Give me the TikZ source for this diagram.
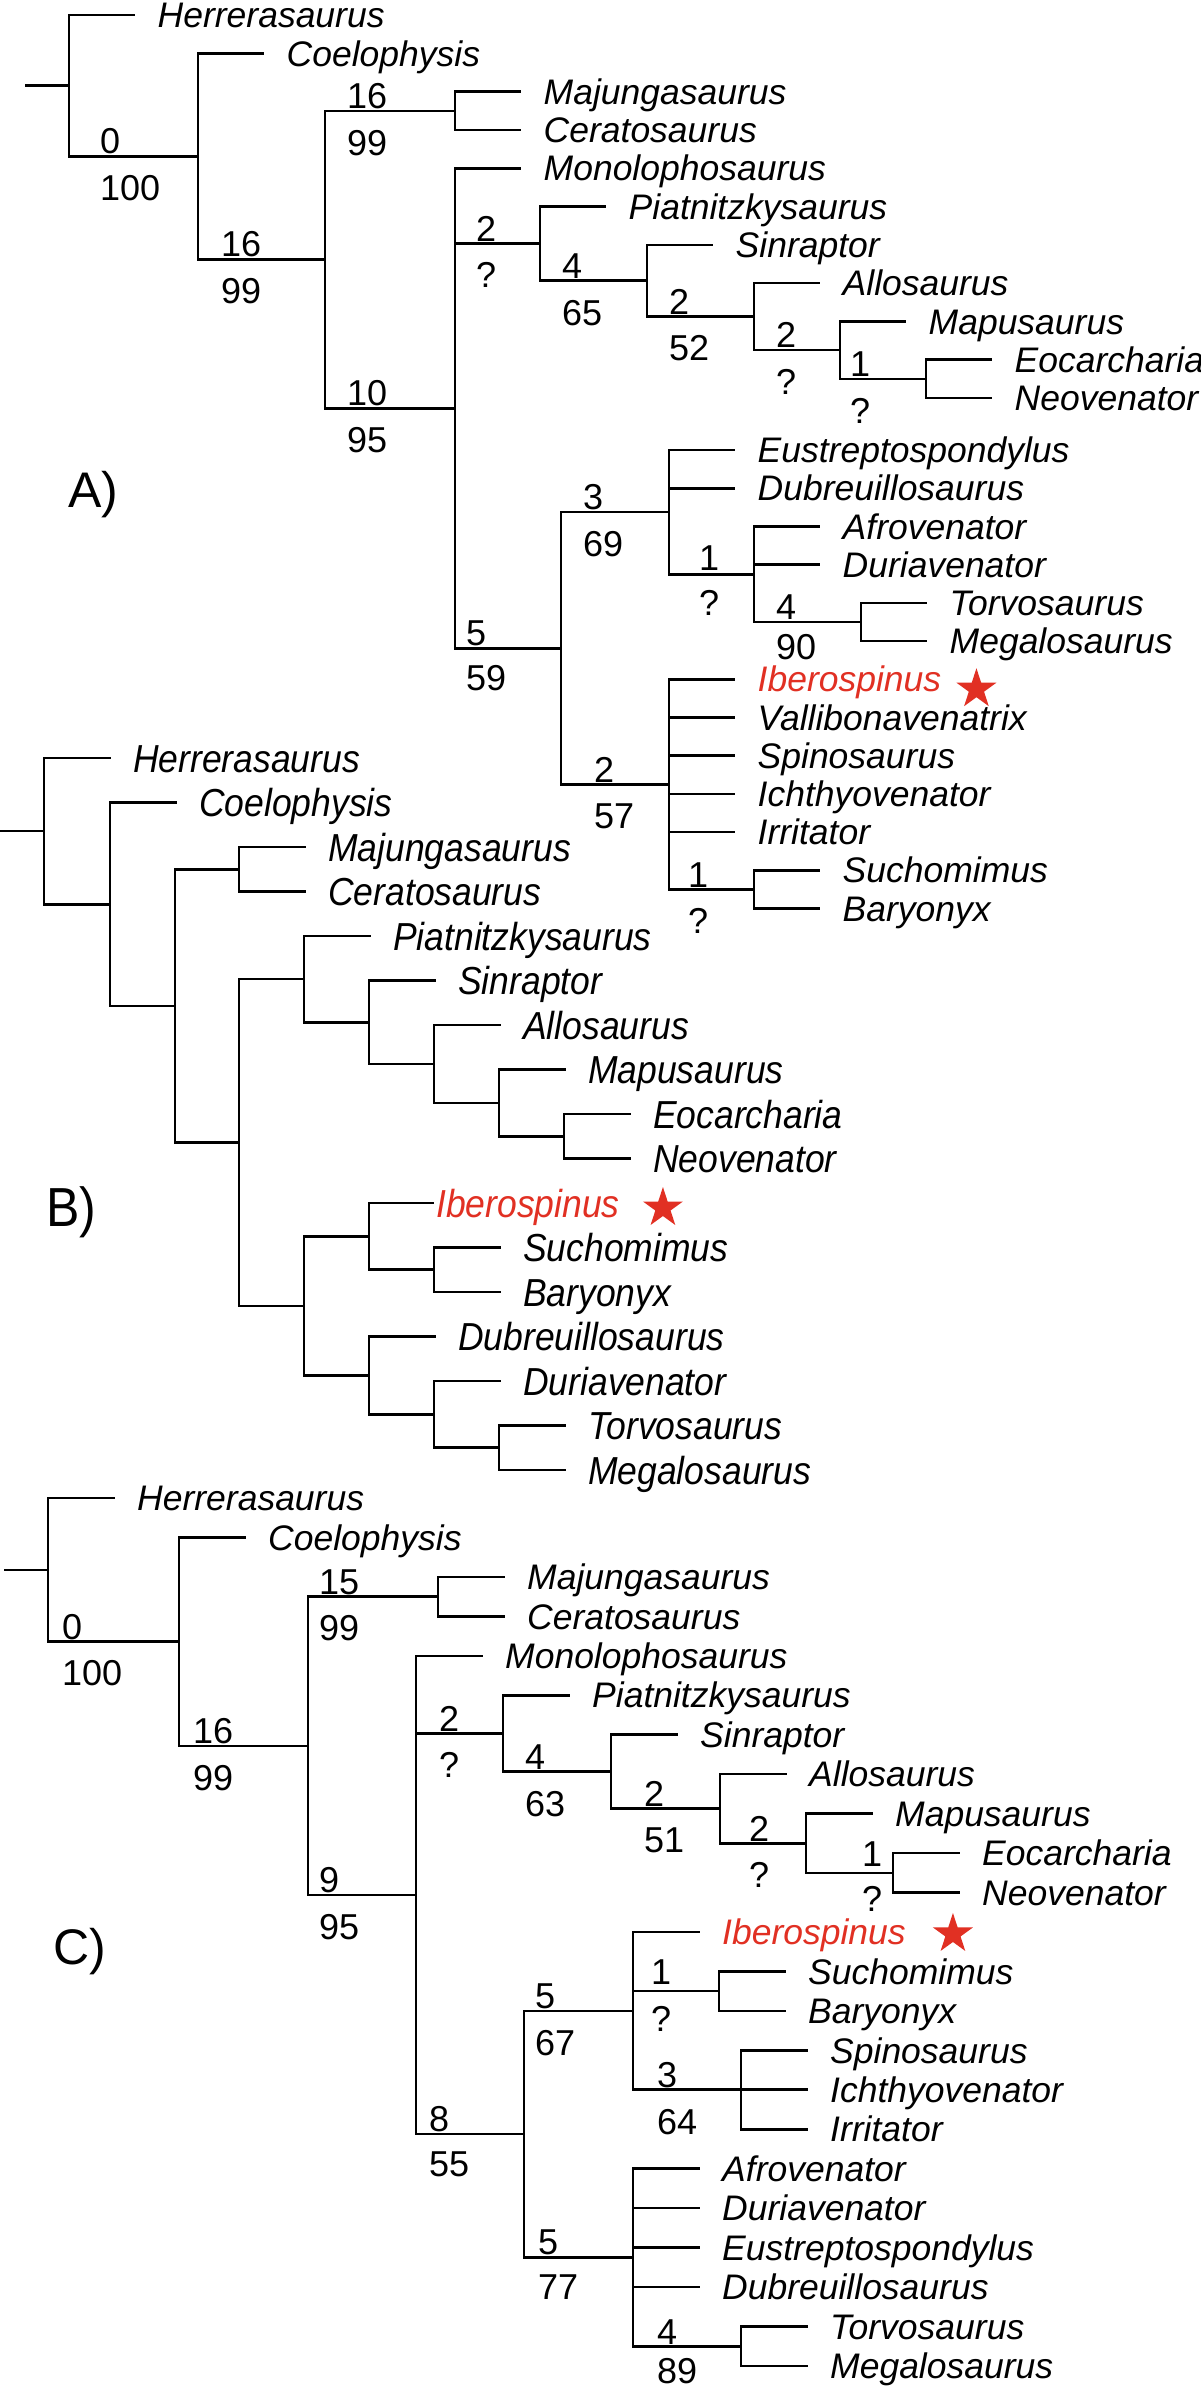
\documentclass[tikz,border=0pt]{standalone}
\usepackage{fontspec}
\setmainfont{Liberation Sans}
\usepackage{graphicx}
\usetikzlibrary{shapes.geometric}
\definecolor{ibred}{RGB}{225,48,35}
\newcommand\bsc[1]{\scalebox{1}[1.1]{#1}}
\newcommand\nlab[7]{%
  \node[up,yshift=#6pt] (#1u) at (#2,#3) {#4};
  \node[dn,yshift=#7pt] (#1d) at (#2,#3) {#5};}
\tikzset{
  br/.style={line width=2.6pt},
  tipl/.style={shorten >=22.5pt},
  leaf/.style={anchor=west, inner sep=0pt, text height=25.4pt, text depth=0pt,
    font=\fontsize{35.5}{40}\selectfont\itshape},
  bleaf/.style={leaf, text height=28pt},
  up/.style={anchor=south west, inner sep=0pt, font=\fontsize{36}{40}\selectfont},
  dn/.style={anchor=north west, inner sep=0pt, font=\fontsize{36}{40}\selectfont},
  panel/.style={anchor=west, inner sep=0pt, font=\fontsize{50}{54}\selectfont},
  ibcol/.style={text=ibred},
  starnode/.style={star, star points=5, star point ratio=2.618, minimum size=42pt,
    inner sep=0pt, fill=ibred, draw=none}
}
\begin{document}
\begin{tikzpicture}[x=1pt,y=-1pt]
\useasboundingbox (0,0) rectangle (1200,2388);
% ================= PANEL A =================
\coordinate (aS) at (25,85.7);
\coordinate (aR) at (69,85.7);
\coordinate (aCOE) at (198,156.4);
\coordinate (aNEO) at (325,259.5);
\coordinate (aCER) at (455,110.8);
\coordinate (aTET) at (455,408.2);
\coordinate (aPSAM) at (540,243.6);
\coordinate (aSAM) at (647,280.7);
\coordinate (aAMEN) at (754,316.6);
\coordinate (aMEN) at (840,350.1);
\coordinate (aEN) at (926,378.9);
\coordinate (aMEG) at (561,648.2);
\coordinate (aX3) at (669,512.1);
\coordinate (aAD) at (754,574.2);
\coordinate (aTM) at (861,621.9);
\coordinate (aX2) at (669,784.3);
\coordinate (aSB) at (754,889.3);
\node[leaf] (aHerr) at (157.5,15) {Herrerasaurus};
\node[leaf] (aCoel) at (286.5,53.3) {Coelophysis};
\node[leaf] (aMaj) at (543.5,91.6) {Majungasaurus};
\node[leaf] (aCer) at (543.5,129.9) {Ceratosaurus};
\node[leaf] (aMono) at (543.5,168.2) {Monolophosaurus};
\node[leaf] (aPiat) at (628.5,206.5) {Piatnitzkysaurus};
\node[leaf] (aSin) at (735.5,244.8) {Sinraptor};
\node[leaf] (aAllo) at (842.5,283.1) {Allosaurus};
\node[leaf] (aMapu) at (928.5,321.4) {Mapusaurus};
\node[leaf] (aEoc) at (1014.5,359.7) {Eocarcharia};
\node[leaf] (aNeo) at (1014.5,398) {Neovenator};
\node[leaf] (aEust) at (757.5,450) {Eustreptospondylus};
\node[leaf] (aDub) at (757.5,488.2) {Dubreuillosaurus};
\node[leaf] (aAfro) at (842.5,526.4) {Afrovenator};
\node[leaf] (aDuri) at (842.5,564.6) {Duriavenator};
\node[leaf] (aTorv) at (949.5,602.8) {Torvosaurus};
\node[leaf] (aMega) at (949.5,641) {Megalosaurus};
\node[leaf,ibcol] (aIber) at (757.5,679.2) {Iberospinus};
\node[leaf] (aVall) at (757.5,717.4) {Vallibonavenatrix};
\node[leaf] (aSpin) at (757.5,755.6) {Spinosaurus};
\node[leaf] (aIcht) at (757.5,793.8) {Ichthyovenator};
\node[leaf] (aIrri) at (757.5,832) {Irritator};
\node[leaf] (aSuch) at (842.5,870.2) {Suchomimus};
\node[leaf] (aBary) at (842.5,908.4) {Baryonyx};
\node[starnode] (aStar) at ([xshift=35pt,yshift=-10pt]aIber.east) {};
\draw[br] (aS) -- (aR);
\draw[br,tipl] (aR) |- (aHerr);
\draw[br] (aR) |- (aCOE);
\draw[br,tipl] (aCOE) |- (aCoel);
\draw[br] (aCOE) |- (aNEO);
\draw[br] (aNEO) |- (aCER);
\draw[br] (aNEO) |- (aTET);
\draw[br,tipl] (aCER) |- (aMaj);
\draw[br,tipl] (aCER) |- (aCer);
\draw[br,tipl] (aTET) |- (aMono);
\draw[br] (aTET) |- (aPSAM);
\draw[br] (aTET) |- (aMEG);
\draw[br,tipl] (aPSAM) |- (aPiat);
\draw[br] (aPSAM) |- (aSAM);
\draw[br,tipl] (aSAM) |- (aSin);
\draw[br] (aSAM) |- (aAMEN);
\draw[br,tipl] (aAMEN) |- (aAllo);
\draw[br] (aAMEN) |- (aMEN);
\draw[br,tipl] (aMEN) |- (aMapu);
\draw[br] (aMEN) |- (aEN);
\draw[br,tipl] (aEN) |- (aEoc);
\draw[br,tipl] (aEN) |- (aNeo);
\draw[br] (aMEG) |- (aX3);
\draw[br] (aMEG) |- (aX2);
\draw[br,tipl] (aX3) |- (aEust);
\draw[br,tipl] (aX3) |- (aDub);
\draw[br] (aX3) |- (aAD);
\draw[br,tipl] (aAD) |- (aAfro);
\draw[br,tipl] (aAD) |- (aDuri);
\draw[br] (aAD) |- (aTM);
\draw[br,tipl] (aTM) |- (aTorv);
\draw[br,tipl] (aTM) |- (aMega);
\foreach \c in {aIber,aVall,aSpin,aIcht,aIrri} \draw[br,tipl] (aX2) |- (\c);
\draw[br] (aX2) |- (aSB);
\draw[br,tipl] (aSB) |- (aSuch);
\draw[br,tipl] (aSB) |- (aBary);
\nlab{aCOE}{100}{156.4}{0}{100}{2}{-19}
\nlab{aNEO}{221}{259.5}{16}{99}{2}{-19}
\nlab{aCER}{347}{110.8}{16}{99}{2}{-19}
\nlab{aTET}{347}{408.2}{10}{95}{2}{-19}
\nlab{aPSAM}{476}{243.6}{2}{?}{2}{-19}
\nlab{aSAM}{562}{280.7}{4}{65}{2}{-19}
\nlab{aAMEN}{669}{316.6}{2}{52}{2}{-19}
\nlab{aMEN}{776}{350.1}{2}{?}{2}{-19}
\nlab{aEN}{850}{378.9}{1}{?}{2}{-19}
\nlab{aMEG}{466}{648.2}{5}{59}{2}{-17}
\nlab{aX3}{583}{512.1}{3}{69}{2}{-19}
\nlab{aAD}{699}{574.2}{1}{?}{4}{-16}
\nlab{aTM}{776}{621.9}{4}{90}{2}{-12}
\nlab{aX2}{594}{784.3}{2}{57}{2}{-19}
\nlab{aSB}{688}{889.3}{1}{?}{2}{-19}
\node[panel] (aPanel) at (68,495) {A)};
% ================= PANEL B =================
\coordinate (bS) at (0,831.1);
\coordinate (bR) at (44,831.1);
\coordinate (bCOE) at (110,904.2);
\coordinate (bNEO) at (175,1005.9);
\coordinate (bCER) at (239,869.25);
\coordinate (bTET) at (239,1142.5);
\coordinate (bCARNO) at (304,979.1);
\coordinate (bSAM) at (369,1022.2);
\coordinate (bAMEN) at (434,1063.9);
\coordinate (bMEN) at (499,1102.9);
\coordinate (bEN) at (564,1136.25);
\coordinate (bSPMEG) at (304,1305.9);
\coordinate (bSPIN) at (369,1236.4);
\coordinate (bSB) at (434,1269.75);
\coordinate (bMEGC) at (369,1375.4);
\coordinate (bDTM) at (434,1414.4);
\coordinate (bTM) at (499,1447.75);
\node[bleaf] (bHerr) at (133,758) {\bsc{Herrerasaurus}};
\node[bleaf] (bCoel) at (199,802.5) {\bsc{Coelophysis}};
\node[bleaf] (bMaj) at (328,847) {\bsc{Majungasaurus}};
\node[bleaf] (bCer) at (328,891.5) {\bsc{Ceratosaurus}};
\node[bleaf] (bPiat) at (393,936) {\bsc{Piatnitzkysaurus}};
\node[bleaf] (bSin) at (458,980.5) {\bsc{Sinraptor}};
\node[bleaf] (bAllo) at (523,1025) {\bsc{Allosaurus}};
\node[bleaf] (bMapu) at (588,1069.5) {\bsc{Mapusaurus}};
\node[bleaf] (bEoc) at (653,1114) {\bsc{Eocarcharia}};
\node[bleaf] (bNeo) at (653,1158.5) {\bsc{Neovenator}};
\node[bleaf,ibcol] (bIber) at (436,1203) {\bsc{Iberospinus}};
\node[bleaf] (bSuch) at (523,1247.5) {\bsc{Suchomimus}};
\node[bleaf] (bBary) at (523,1292) {\bsc{Baryonyx}};
\node[bleaf] (bDub) at (458,1336.5) {\bsc{Dubreuillosaurus}};
\node[bleaf] (bDuri) at (523,1381) {\bsc{Duriavenator}};
\node[bleaf] (bTorv) at (588,1425.5) {\bsc{Torvosaurus}};
\node[bleaf] (bMega) at (588,1470) {\bsc{Megalosaurus}};
\node[starnode] (bStar) at ([xshift=43pt,yshift=-5pt]bIber.east) {};
\draw[br] (bS) -- (bR);
\draw[br,tipl] (bR) |- (bHerr);
\draw[br] (bR) |- (bCOE);
\draw[br,tipl] (bCOE) |- (bCoel);
\draw[br] (bCOE) |- (bNEO);
\draw[br] (bNEO) |- (bCER);
\draw[br] (bNEO) |- (bTET);
\draw[br,tipl] (bCER) |- (bMaj);
\draw[br,tipl] (bCER) |- (bCer);
\draw[br] (bTET) |- (bCARNO);
\draw[br] (bTET) |- (bSPMEG);
\draw[br,tipl] (bCARNO) |- (bPiat);
\draw[br] (bCARNO) |- (bSAM);
\draw[br,tipl] (bSAM) |- (bSin);
\draw[br] (bSAM) |- (bAMEN);
\draw[br,tipl] (bAMEN) |- (bAllo);
\draw[br] (bAMEN) |- (bMEN);
\draw[br,tipl] (bMEN) |- (bMapu);
\draw[br] (bMEN) |- (bEN);
\draw[br,tipl] (bEN) |- (bEoc);
\draw[br,tipl] (bEN) |- (bNeo);
\draw[br] (bSPMEG) |- (bSPIN);
\draw[br] (bSPMEG) |- (bMEGC);
\draw[br,shorten >=2pt] (bSPIN) |- (bIber);
\draw[br] (bSPIN) |- (bSB);
\draw[br,tipl] (bSB) |- (bSuch);
\draw[br,tipl] (bSB) |- (bBary);
\draw[br,tipl] (bMEGC) |- (bDub);
\draw[br] (bMEGC) |- (bDTM);
\draw[br,tipl] (bDTM) |- (bDuri);
\draw[br] (bDTM) |- (bTM);
\draw[br,tipl] (bTM) |- (bTorv);
\draw[br,tipl] (bTM) |- (bMega);
\node[panel] (bPanel) at (46,1212) {\bsc{B)}};
% ================= PANEL C =================
\coordinate (cS) at (4,1569.8);
\coordinate (cR) at (48,1569.8);
\coordinate (cCOE) at (179,1641.6);
\coordinate (cNEO) at (308,1745.8);
\coordinate (cCER) at (438,1596.6);
\coordinate (cTET) at (416,1894.9);
\coordinate (cPSAM) at (503,1733.6);
\coordinate (cSAM) at (611,1771.7);
\coordinate (cAMEN) at (720,1808.7);
\coordinate (cMEN) at (806,1843.2);
\coordinate (cEN) at (893,1872.8);
\coordinate (cSPMEG) at (524,2134.1);
\coordinate (cSP) at (633,2010.85);
\coordinate (cSB) at (719,1991.1);
\coordinate (cSPINO) at (741,2089.75);
\coordinate (cMEGC) at (633,2257.4);
\coordinate (cTM) at (741,2346.2);
\node[leaf] (cHerr) at (137,1498) {Herrerasaurus};
\node[leaf] (cCoel) at (268,1537.45) {Coelophysis};
\node[leaf] (cMaj) at (527,1576.9) {Majungasaurus};
\node[leaf] (cCer) at (527,1616.35) {Ceratosaurus};
\node[leaf] (cMono) at (505,1655.8) {Monolophosaurus};
\node[leaf] (cPiat) at (592,1695.25) {Piatnitzkysaurus};
\node[leaf] (cSin) at (700,1734.7) {Sinraptor};
\node[leaf] (cAllo) at (809,1774.15) {Allosaurus};
\node[leaf] (cMapu) at (895,1813.6) {Mapusaurus};
\node[leaf] (cEoc) at (982,1853.05) {Eocarcharia};
\node[leaf] (cNeo) at (982,1892.5) {Neovenator};
\node[leaf,ibcol] (cIber) at (722,1931.95) {Iberospinus};
\node[leaf] (cSuch) at (808,1971.4) {Suchomimus};
\node[leaf] (cBary) at (808,2010.85) {Baryonyx};
\node[leaf] (cSpin) at (830,2050.3) {Spinosaurus};
\node[leaf] (cIcht) at (830,2089.75) {Ichthyovenator};
\node[leaf] (cIrri) at (830,2129.2) {Irritator};
\node[leaf] (cAfro) at (722,2168.65) {Afrovenator};
\node[leaf] (cDuri) at (722,2208.1) {Duriavenator};
\node[leaf] (cEust) at (722,2247.55) {Eustreptospondylus};
\node[leaf] (cDub) at (722,2287) {Dubreuillosaurus};
\node[leaf] (cTorv) at (830,2326.45) {Torvosaurus};
\node[leaf] (cMega) at (830,2365.9) {Megalosaurus};
\node[starnode] (cStar) at ([xshift=47pt,yshift=-2pt]cIber.east) {};
\draw[br] (cS) -- (cR);
\draw[br,tipl] (cR) |- (cHerr);
\draw[br] (cR) |- (cCOE);
\draw[br,tipl] (cCOE) |- (cCoel);
\draw[br] (cCOE) |- (cNEO);
\draw[br] (cNEO) |- (cCER);
\draw[br] (cNEO) |- (cTET);
\draw[br,tipl] (cCER) |- (cMaj);
\draw[br,tipl] (cCER) |- (cCer);
\draw[br,tipl] (cTET) |- (cMono);
\draw[br] (cTET) |- (cPSAM);
\draw[br] (cTET) |- (cSPMEG);
\draw[br,tipl] (cPSAM) |- (cPiat);
\draw[br] (cPSAM) |- (cSAM);
\draw[br,tipl] (cSAM) |- (cSin);
\draw[br] (cSAM) |- (cAMEN);
\draw[br,tipl] (cAMEN) |- (cAllo);
\draw[br] (cAMEN) |- (cMEN);
\draw[br,tipl] (cMEN) |- (cMapu);
\draw[br] (cMEN) |- (cEN);
\draw[br,tipl] (cEN) |- (cEoc);
\draw[br,tipl] (cEN) |- (cNeo);
\draw[br] (cSPMEG) |- (cSP);
\draw[br] (cSPMEG) |- (cMEGC);
\draw[br,tipl] (cSP) |- (cIber);
\draw[br] (cSP) |- (cSB);
\draw[br] (cSP) |- (cSPINO);
\draw[br,tipl] (cSB) |- (cSuch);
\draw[br,tipl] (cSB) |- (cBary);
\foreach \c in {cSpin,cIcht,cIrri} \draw[br,tipl] (cSPINO) |- (\c);
\foreach \c in {cAfro,cDuri,cEust,cDub} \draw[br,tipl] (cMEGC) |- (\c);
\draw[br] (cMEGC) |- (cTM);
\draw[br,tipl] (cTM) |- (cTorv);
\draw[br,tipl] (cTM) |- (cMega);
\nlab{cCOE}{62}{1641.6}{0}{100}{2}{-19}
\nlab{cNEO}{193}{1745.8}{16}{99}{2}{-19}
\nlab{cCER}{319}{1596.6}{15}{99}{2}{-19}
\nlab{cTET}{319}{1894.9}{9}{95}{2}{-19}
\nlab{cPSAM}{439}{1733.6}{2}{?}{2}{-19}
\nlab{cSAM}{525}{1771.7}{4}{63}{2}{-19}
\nlab{cAMEN}{644}{1808.7}{2}{51}{2}{-19}
\nlab{cMEN}{749}{1843.2}{2}{?}{2}{-19}
\nlab{cEN}{862}{1872.8}{1}{?}{6}{-13}
\nlab{cSP}{535}{2010.85}{5}{67}{2}{-19}
\nlab{cSB}{651}{1991.1}{1}{?}{6}{-15}
\nlab{cSPINO}{657}{2089.75}{3}{64}{2}{-19}
\nlab{cSPMEG}{429}{2134.1}{8}{55}{2}{-17}
\nlab{cMEGC}{538}{2257.4}{5}{77}{2}{-17}
\nlab{cTM}{657}{2346.2}{4}{89}{2}{-12}
\node[panel] (cPanel) at (53,1952) {C)};
\end{tikzpicture}
\end{document}
